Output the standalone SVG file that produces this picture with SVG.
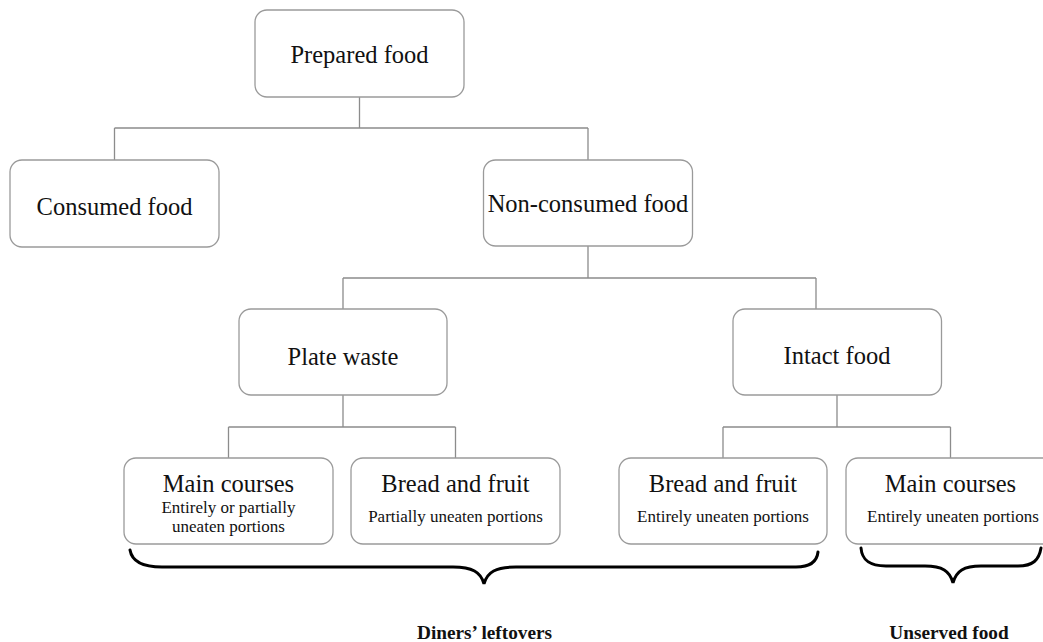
<svg xmlns="http://www.w3.org/2000/svg" width="1043" height="642" viewBox="0 0 1043 642">
<style>
.box{fill:#fff;stroke:#9a9a9a;stroke-width:1.3}
.t{font-family:"Liberation Serif","Times New Roman",serif;fill:#111;text-anchor:middle}
.big{font-size:24.5px}
.sm{font-size:17px}
.bold{font-size:19.3px;font-weight:bold}
.ln{fill:none;stroke:#8c8c8c;stroke-width:1.3}
.brace{fill:none;stroke:#000;stroke-width:3;stroke-linecap:round}
</style>
<rect width="1043" height="642" fill="#fff"/>
<g id="connectors">
<path class="ln" d="M359.5,97 V128 M114.5,128 H588 M114.5,128 V160 M588,128 V160"/>
<path class="ln" d="M588,246 V278 M343,278 H816 M343,278 V309 M816,278 V309"/>
<path class="ln" d="M343,395 V427 M228.5,427 H455.5 M228.5,427 V458 M455.5,427 V458"/>
<path class="ln" d="M837,395 V427 M723,427 H950.5 M723,427 V458 M950.5,427 V458"/>
</g>
<g id="prepared"><rect class="box" x="255" y="10" width="209" height="87" rx="12"/><text class="t big" x="359.5" y="63">Prepared food</text></g>
<g id="consumed"><rect class="box" x="10" y="160" width="209" height="87" rx="12"/><text class="t big" x="114.5" y="215">Consumed food</text></g>
<g id="nonconsumed"><rect class="box" x="483.5" y="160" width="209" height="86" rx="12"/><text class="t big" x="588" y="212">Non-consumed food</text></g>
<g id="platewaste"><rect class="box" x="239" y="309" width="208" height="86" rx="12"/><text class="t big" x="343" y="365">Plate waste</text></g>
<g id="intact"><rect class="box" x="733" y="309" width="208.5" height="86" rx="12"/><text class="t big" x="837" y="364">Intact food</text></g>
<g id="main-left"><rect class="box" x="124" y="458" width="209" height="86" rx="12"/><text class="t big" x="228.5" y="492">Main courses</text><text class="t sm" x="228.5" y="513">Entirely or partially</text><text class="t sm" x="228.5" y="532">uneaten portions</text></g>
<g id="bread-left"><rect class="box" x="351" y="458" width="209" height="86" rx="12"/><text class="t big" x="455.5" y="492">Bread and fruit</text><text class="t sm" x="455.5" y="522">Partially uneaten portions</text></g>
<g id="bread-right"><rect class="box" x="619" y="458" width="208" height="86" rx="12"/><text class="t big" x="723" y="492">Bread and fruit</text><text class="t sm" x="723" y="522">Entirely uneaten portions</text></g>
<g id="main-right"><rect class="box" x="846" y="458" width="209" height="86" rx="12"/><text class="t big" x="950.5" y="492">Main courses</text><text class="t sm" x="953" y="522">Entirely uneaten portions</text></g>
<g id="diners-leftovers">
<path class="brace" d="M130,550 C132,562 143,567 162,567 L453,567 C472,567 481,572 484,584 C487,572 496,567 516,567 L796,567 C810,567 817,561 818,552"/>
<text class="t bold" x="484.5" y="639">Diners’ leftovers</text>
</g>
<g id="unserved-food">
<path class="brace" d="M861,548 C862,560 869,566 886,566 L925,566 C942,566 950,571 953,583 C956,571 964,566 981,566 L1018,566 C1033,566 1039,560 1041,548"/>
<text class="t bold" x="949" y="639">Unserved food</text>
</g>
</svg>
